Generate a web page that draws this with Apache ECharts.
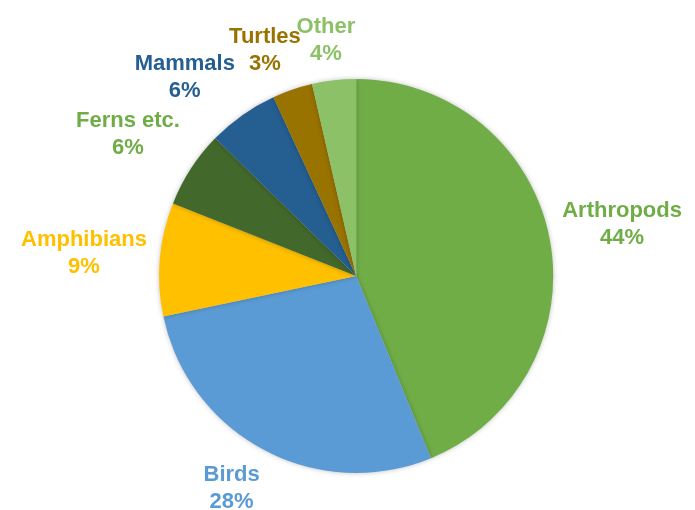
<!DOCTYPE html>
<html>
<head>
<meta charset="utf-8">
<script src="https://cdn.jsdelivr.net/npm/echarts@6/dist/echarts.min.js"></script>
<style>
html,body{margin:0;padding:0;background:#fff;}
#chart{width:695px;height:510px;}
</style>
</head>
<body>
<div id="chart"></div>
<script>
var categories = ['Arthropods', 'Birds', 'Amphibians', 'Ferns etc.', 'Mammals', 'Turtles', 'Other'];
var values = [43.8, 27.9, 9.3, 6.3, 5.8, 3.3, 3.6];
var sliceColors = ['#70AD47', '#5B9BD5', '#FFC000', '#43682B', '#255E91', '#997300', '#8CC168'];
var labelColors = ['#70AD47', '#5B9BD5', '#FFC000', '#70AD47', '#255E91', '#997300', '#8CC168'];

var chart = echarts.init(document.getElementById('chart'));
var centerPct = [51.25, 54.1];
var radiusPx = 197;
var gap = 13;
var total = values.reduce(function (a, b) { return a + b; }, 0);

function midAngle(i) {
  var cum = 0;
  for (var k = 0; k < i; k++) cum += values[k];
  return (cum + values[i] / 2) / total * 2 * Math.PI; // clockwise from top
}
function clamp(v) { return Math.max(-1, Math.min(1, v)); }

var data = categories.map(function (c, i) {
  return {
    name: c,
    value: values[i],
    itemStyle: { color: sliceColors[i] },
    label: { color: labelColors[i] }
  };
});

chart.setOption({
  animation: false,
  series: [{
    type: 'pie',
    center: [centerPct[0] + '%', centerPct[1] + '%'],
    radius: [0, radiusPx],
    startAngle: 90,
    clockwise: true,
    avoidLabelOverlap: false,
    data: data,
    itemStyle: {
      borderWidth: 0,
      shadowBlur: 5,
      shadowColor: 'rgba(0,0,0,0.25)'
    },
    label: {
      show: true,
      position: 'outside',
      overflow: 'none',
      formatter: function (p) { return p.name + '\n' + Math.round(p.percent) + '%'; },
      fontFamily: 'Liberation Sans, Arial, sans-serif',
      fontWeight: 'bold',
      fontSize: 22,
      lineHeight: 27,
      align: 'center'
    },
    labelLine: { show: false },
    labelLayout: function (params) {
      var cx = chart.getWidth() * centerPct[0] / 100;
      var cy = chart.getHeight() * centerPct[1] / 100;
      var a = midAngle(params.dataIndex);
      var dx = Math.sin(a), dy = -Math.cos(a);
      var w = params.labelRect.width, h = params.labelRect.height;
      var R = radiusPx + gap;
      return {
        x: cx + R * dx + w / 2 * clamp(2 * dx),
        y: cy + R * dy + h / 2 * clamp(2 * dy),
        align: 'center',
        verticalAlign: 'middle'
      };
    }
  }]
});
</script>
</body>
</html>
